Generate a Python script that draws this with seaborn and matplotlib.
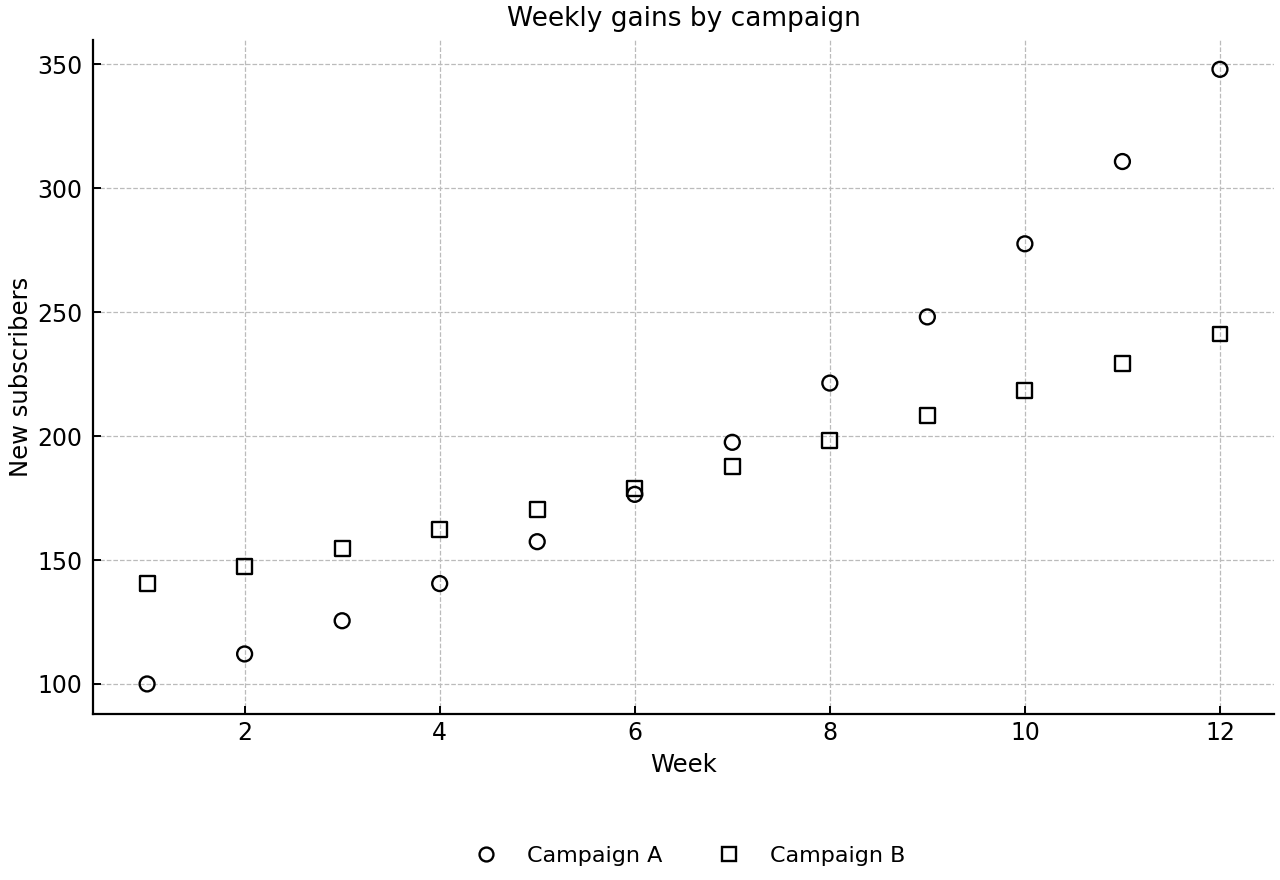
import pandas as pd
import matplotlib.pyplot as plt
import seaborn as sns
from matplotlib.lines import Line2D

weeks = list(range(1, 13))
campaign_a = [100.0, 112.1, 125.5, 140.5, 157.4, 176.5, 197.5, 221.4, 248.1, 277.6, 310.8, 348.0]
campaign_b = [140.5, 147.3, 154.6, 162.3, 170.4, 178.9, 187.8, 198.3, 208.4, 218.5, 229.4, 241.2]

df = pd.DataFrame({
    "Week": weeks * 2,
    "New subscribers": campaign_a + campaign_b,
    "Campaign": ["Campaign A"] * 12 + ["Campaign B"] * 12,
})

sns.set_style("ticks")
plt.rcParams['font.family'] = ['DejaVu Sans']
plt.rcParams.update({"text.color": "black", "axes.labelcolor": "black",
                     "xtick.color": "black", "ytick.color": "black",
                     "axes.edgecolor": "black"})

fig, ax = plt.subplots(figsize=(12.8, 8.8), dpi=100)
sns.scatterplot(data=df, x="Week", y="New subscribers", style="Campaign",
                markers={"Campaign A": "o", "Campaign B": "s"},
                facecolor="none", edgecolor="black", linewidth=1.7, s=115,
                ax=ax, legend=False)

ax.grid(True, linestyle="--", color="#bbbbbb", linewidth=0.9)
ax.set_axisbelow(True)
sns.despine(ax=ax)
for sp in ["left", "bottom"]:
    ax.spines[sp].set_linewidth(1.6)
ax.tick_params(direction="in", length=6, width=1.4, labelsize=17)
ax.tick_params(axis="x", pad=5)
ax.tick_params(axis="y", pad=8)
ax.set_xticks([2, 4, 6, 8, 10, 12])
ax.set_yticks([100, 150, 200, 250, 300, 350])
ax.set_xlim(0.45, 12.55)
ax.set_ylim(88, 360)
ax.set_xlabel("Week", fontsize=17.5, labelpad=6)
ax.set_ylabel("New subscribers", fontsize=17.5, labelpad=3)
ax.set_title("Weekly gains by campaign", fontsize=19, pad=10)

handles = [Line2D([], [], marker="o", linestyle="none", markerfacecolor="none",
                  markeredgecolor="black", markeredgewidth=1.7, markersize=10),
           Line2D([], [], marker="s", linestyle="none", markerfacecolor="none",
                  markeredgecolor="black", markeredgewidth=1.7, markersize=10)]
fig.legend(handles, ["Campaign A", "Campaign B"], loc="lower center", ncol=2,
           frameon=False, fontsize=16, bbox_to_anchor=(0.535, -0.007),
           columnspacing=2.0, handletextpad=0.85)

fig.subplots_adjust(left=0.073, right=0.995, top=0.955, bottom=0.189)
fig.savefig("out.png", dpi=100)
